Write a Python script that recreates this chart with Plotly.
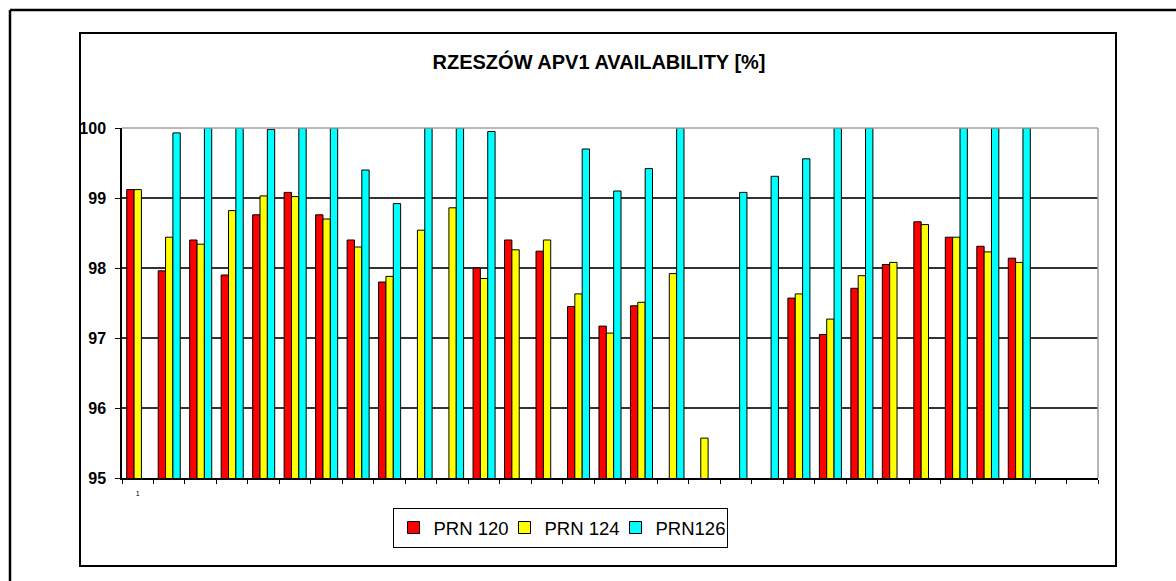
import plotly.graph_objects as go

days = list(range(1, 32))
prn120 = [99.12, 97.96, 98.40, 97.90, 98.76, 99.08, 98.76, 98.40, 97.80, None,
          None, 98.00, 98.40, 98.24, 97.45, 97.17, 97.46, None, None, None,
          None, 97.57, 97.05, 97.71, 98.05, 98.66, 98.44, 98.31, 98.14, None, None]
prn124 = [99.12, 98.44, 98.34, 98.82, 99.03, 99.02, 98.70, 98.30, 97.88, 98.54,
          98.86, 97.85, 98.26, 98.40, 97.63, 97.07, 97.51, 97.92, 95.57, None,
          None, 97.63, 97.27, 97.89, 98.08, 98.62, 98.44, 98.23, 98.08, None, None]
prn126 = [None, 99.93, 100.0, 100.0, 99.98, 100.0, 100.0, 99.40, 98.92, 100.0,
          100.0, 99.95, None, None, 99.70, 99.10, 99.42, 100.0, None, 99.08,
          99.31, 99.56, 100.0, 100.0, None, None, 100.0, 100.0, 100.0, None, None]
names = ["PRN 120", "PRN 124", "PRN126"]
colors = ["#FF0000", "#FFFF00", "#00FFFF"]
title = "RZESZÓW APV1 AVAILABILITY [%]"

W, H = 1176, 581
L, R, T, B = 122, 1098, 128, 478
FONT = "Arial, Liberation Sans, sans-serif"

def px(x):
    return (x - L) / (R - L)

def py(y):
    return (B - y) / (B - T)

fig = go.Figure()
for n, vals, c in zip(names, [prn120, prn124, prn126], colors):
    fig.add_trace(go.Bar(x=days, y=vals, name=n,
                         marker=dict(color=c, line=dict(color="black", width=1))))

fig.update_layout(
    width=W, height=H,
    margin=dict(l=L, r=W - R, t=T, b=H - B, autoexpand=False),
    paper_bgcolor="white", plot_bgcolor="white",
    barmode="group", bargap=0.3, bargroupgap=0,
    font=dict(family=FONT, color="black"),
    title=dict(text="<b>" + title + "</b>", x=599 / W, xref="container", xanchor="center",
               y=1 - 62 / H, yref="container", yanchor="middle",
               font=dict(size=20, family=FONT, color="black")),
    showlegend=True,
    legend=dict(orientation="h", x=px(560), y=py(528), xanchor="center", yanchor="middle",
                bordercolor="black", borderwidth=1, bgcolor="white",
                font=dict(size=18.5, family=FONT, color="black"), itemwidth=30,
                entrywidth=66, entrywidthmode="pixels", tracegroupgap=0),
)
fig.update_xaxes(
    range=[0.5, 31.5], showgrid=False, zeroline=False,
    showline=True, linecolor="black", linewidth=1.5,
    tickmode="array", tickvals=[1], ticktext=["1"], ticks="", ticklabelstandoff=8,
    tickfont=dict(size=7, family=FONT, color="black"),
    minor=dict(tickmode="array", tickvals=[d - 0.5 for d in days] + [31.5], ticks="outside",
               ticklen=4, tickcolor="black", tickwidth=1, showgrid=False),
)
fig.update_yaxes(
    range=[95, 100], tickvals=[95, 96, 97, 98, 99, 100],
    ticktext=["<b>95</b>", "<b>96</b>", "<b>97</b>", "<b>98</b>", "<b>99</b>", "<b>100</b>"],
    showgrid=True, gridcolor="#333333", gridwidth=1.5, zeroline=False,
    showline=True, linecolor="black", linewidth=1.5,
    ticks="outside", ticklen=5, tickcolor="black", tickwidth=1,
    ticklabelstandoff=6,
    tickfont=dict(size=16, family=FONT, color="black"),
)

shapes = [
    dict(type="line", xref="paper", yref="paper", x0=0, x1=1, y0=1, y1=1,
         line=dict(color="#A0A0A0", width=1.5), layer="above"),
    dict(type="line", xref="paper", yref="paper", x0=1, x1=1, y0=0, y1=1,
         line=dict(color="#A0A0A0", width=1.5), layer="above"),
    dict(type="rect", xref="paper", yref="paper", x0=px(80), x1=px(1116), y0=py(566), y1=py(33),
         line=dict(color="black", width=2), fillcolor="rgba(0,0,0,0)", layer="above"),
    dict(type="line", xref="paper", yref="paper", x0=px(10), x1=px(1180), y0=py(10), y1=py(10),
         line=dict(color="black", width=2.5), layer="above"),
    dict(type="line", xref="paper", yref="paper", x0=px(10), x1=px(10), y0=py(10), y1=py(590),
         line=dict(color="black", width=2.5), layer="above"),
]
fig.update_layout(shapes=shapes)

fig.write_html("out.html", config={"displayModeBar": False},
               post_script="document.body.style.margin='0';document.body.style.overflow='hidden';")
